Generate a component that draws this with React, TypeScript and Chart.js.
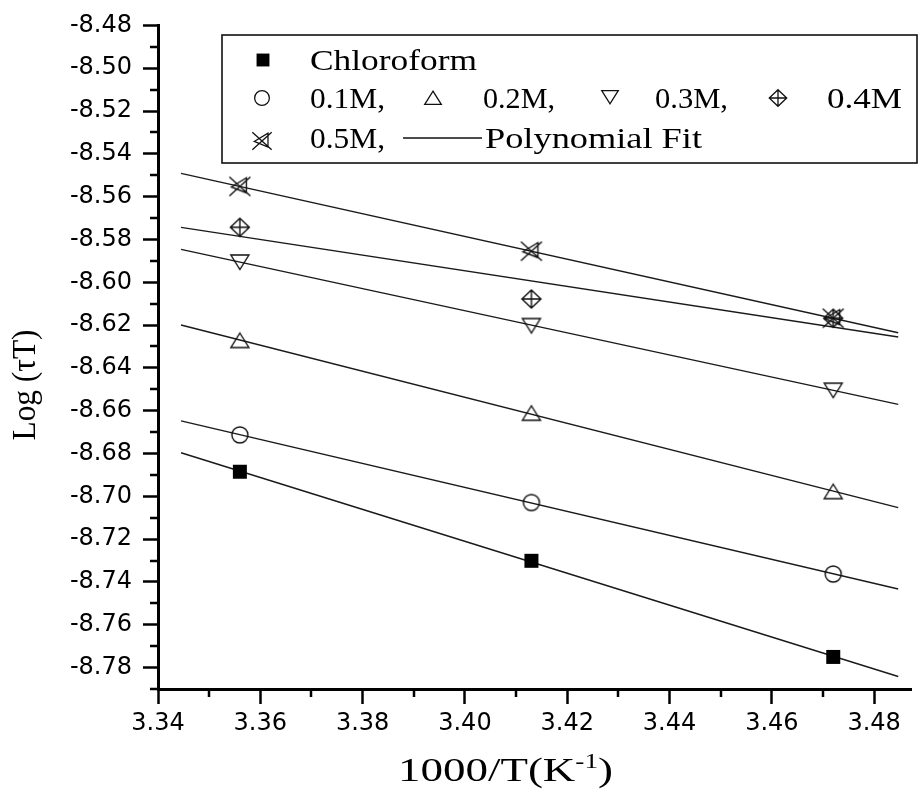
import React, { useEffect, useRef } from "react";
import { Chart, registerables } from "chart.js";
Chart.register(...registerables);

// ---- data ----
const inverseTemperature = [3.356, 3.413, 3.472];
const chloroform = [-8.6885, -8.7301, -8.775];
const conc01M = [-8.6713, -8.7029, -8.7363];
const conc02M = [-8.6272, -8.6612, -8.6978];
const conc03M = [-8.5905, -8.6202, -8.6504];
const conc04M = [-8.5743, -8.6078, -8.6168];
const conc05M = [-8.5552, -8.5855, -8.6168];
const fitRange = [3.3445, 3.4847];

const xTickLabels = [3.34, 3.36, 3.38, 3.4, 3.42, 3.44, 3.46, 3.48];
const xMinorTicks = [3.35, 3.37, 3.39, 3.41, 3.43, 3.45, 3.47];
const yTickLabels = [-8.78, -8.76, -8.74, -8.72, -8.7, -8.68, -8.66, -8.64, -8.62, -8.6, -8.58, -8.56, -8.54, -8.52, -8.5, -8.48];
const yMinorTicks = [-8.79, -8.77, -8.75, -8.73, -8.71, -8.69, -8.67, -8.65, -8.63, -8.61, -8.59, -8.57, -8.55, -8.53, -8.51, -8.49];

type Kind = "square" | "circle" | "up" | "down" | "diamond" | "star";
const series: { name: string; values: number[]; kind: Kind }[] = [
  { name: "Chloroform", values: chloroform, kind: "square" },
  { name: "0.1M", values: conc01M, kind: "circle" },
  { name: "0.2M", values: conc02M, kind: "up" },
  { name: "0.3M", values: conc03M, kind: "down" },
  { name: "0.4M", values: conc04M, kind: "diamond" },
  { name: "0.5M", values: conc05M, kind: "star" },
];

function linearFit(xs: number[], ys: number[]) {
  const n = xs.length;
  const mx = xs.reduce((a, b) => a + b, 0) / n;
  const my = ys.reduce((a, b) => a + b, 0) / n;
  let sxy = 0, sxx = 0;
  for (let i = 0; i < n; i++) {
    sxy += (xs[i] - mx) * (ys[i] - my);
    sxx += (xs[i] - mx) * (xs[i] - mx);
  }
  const slope = sxy / sxx;
  return (x: number) => my + slope * (x - mx);
}

function drawMarker(ctx: CanvasRenderingContext2D, kind: Kind, x: number, y: number, s: number) {
  ctx.save();
  ctx.translate(x, y);
  ctx.scale(s, s);
  ctx.strokeStyle = "#111";
  ctx.fillStyle = "#000";
  ctx.lineWidth = 1.4;
  ctx.beginPath();
  switch (kind) {
    case "square":
      ctx.fillRect(-7, -7, 14, 14);
      break;
    case "circle":
      ctx.arc(0, 0, 8, 0, Math.PI * 2);
      ctx.stroke();
      break;
    case "up":
      ctx.moveTo(0, -7.5);
      ctx.lineTo(9, 7);
      ctx.lineTo(-9, 7);
      ctx.closePath();
      ctx.stroke();
      break;
    case "down":
      ctx.moveTo(-9, -7);
      ctx.lineTo(9, -7);
      ctx.lineTo(0, 7.5);
      ctx.closePath();
      ctx.stroke();
      break;
    case "diamond":
      ctx.moveTo(0, -9);
      ctx.lineTo(9.5, 0);
      ctx.lineTo(0, 9);
      ctx.lineTo(-9.5, 0);
      ctx.closePath();
      ctx.moveTo(0, -9);
      ctx.lineTo(0, 9);
      ctx.moveTo(-9.5, 0);
      ctx.lineTo(9.5, 0);
      ctx.stroke();
      break;
    case "star":
      ctx.moveTo(-10.5, -9.5);
      ctx.lineTo(10.5, 9.5);
      ctx.moveTo(-10.5, 9.5);
      ctx.lineTo(10.5, -9.5);
      ctx.moveTo(-8.5, 0.5);
      ctx.lineTo(6.5, -8.5);
      ctx.lineTo(6.5, 6.5);
      ctx.closePath();
      ctx.stroke();
      break;
  }
  ctx.restore();
}

function markerCanvas(kind: Kind): HTMLCanvasElement {
  const c = document.createElement("canvas");
  c.width = 26;
  c.height = 26;
  const ctx = c.getContext("2d")!;
  drawMarker(ctx, kind, 13, 13, 1);
  return c;
}

const SERIF = '"Liberation Serif", "Times New Roman", serif';

function fitText(ctx: CanvasRenderingContext2D, text: string, x: number, y: number, font: string, width: number) {
  ctx.save();
  ctx.font = font;
  const w = ctx.measureText(text).width;
  ctx.translate(x, y);
  ctx.scale(width / w, 1);
  ctx.textAlign = "left";
  ctx.textBaseline = "alphabetic";
  ctx.fillText(text, 0, 0);
  ctx.restore();
}

const legendMarkers: { kind: Kind; x: number; y: number }[] = [
  { kind: "square", x: 263, y: 60 },
  { kind: "circle", x: 262, y: 98 },
  { kind: "up", x: 433, y: 98 },
  { kind: "down", x: 610, y: 97 },
  { kind: "diamond", x: 778, y: 98 },
  { kind: "star", x: 262, y: 141 },
];
const legendTexts: { text: string; x: number; y: number; w: number }[] = [
  { text: "Chloroform", x: 310, y: 70, w: 167 },
  { text: "0.1M,", x: 310, y: 108, w: 75 },
  { text: "0.2M,", x: 483, y: 108, w: 72 },
  { text: "0.3M,", x: 655, y: 108, w: 73 },
  { text: "0.4M", x: 827, y: 108, w: 75 },
  { text: "0.5M,", x: 310, y: 148, w: 75 },
  { text: "Polynomial Fit", x: 485, y: 148, w: 217 },
];

const decorPlugin = {
  id: "decor",
  afterDraw(chart: any) {
    const ctx: CanvasRenderingContext2D = chart.ctx;
    const { left, bottom } = chart.chartArea;
    const xs = chart.scales.x;
    const ys = chart.scales.y;
    ctx.save();
    // minor ticks
    ctx.strokeStyle = "#000";
    ctx.lineWidth = 2.5;
    ctx.beginPath();
    xMinorTicks.forEach((v) => {
      const px = Math.round(xs.getPixelForValue(v));
      ctx.moveTo(px, bottom);
      ctx.lineTo(px, bottom + 8);
    });
    yMinorTicks.forEach((v) => {
      const py = Math.round(ys.getPixelForValue(v));
      ctx.moveTo(left - 8, py);
      ctx.lineTo(left, py);
    });
    ctx.stroke();

    // legend box
    ctx.lineWidth = 1.6;
    ctx.strokeStyle = "#111";
    ctx.strokeRect(222, 35, 695, 128);
    legendMarkers.forEach((m) => drawMarker(ctx, m.kind, m.x, m.y, 0.92));
    ctx.fillStyle = "#000";
    legendTexts.forEach((t) => fitText(ctx, t.text, t.x, t.y, `29px ${SERIF}`, t.w));
    ctx.lineWidth = 1.3;
    ctx.beginPath();
    ctx.moveTo(403, 138);
    ctx.lineTo(482, 138);
    ctx.stroke();

    // x title: 1000/T(K^-1)
    ctx.font = `33px ${SERIF}`;
    const w1 = ctx.measureText("1000/T(K").width;
    const w3 = ctx.measureText(")").width;
    ctx.font = `20px ${SERIF}`;
    const w2 = ctx.measureText("-1").width;
    const sx = 215 / (w1 + w2 + w3);
    ctx.save();
    ctx.translate(398, 781);
    ctx.scale(sx, 1);
    ctx.textBaseline = "alphabetic";
    ctx.textAlign = "left";
    ctx.font = `33px ${SERIF}`;
    ctx.fillText("1000/T(K", 0, 0);
    ctx.font = `20px ${SERIF}`;
    ctx.fillText("-1", w1, -13);
    ctx.font = `33px ${SERIF}`;
    ctx.fillText(")", w1 + w2, 0);
    ctx.restore();

    // y title
    ctx.save();
    ctx.translate(35, 385);
    ctx.rotate(-Math.PI / 2);
    ctx.font = `33px ${SERIF}`;
    const wy = ctx.measureText("Log (\u03c4T)").width;
    ctx.scale(111 / wy, 1);
    ctx.textAlign = "center";
    ctx.textBaseline = "alphabetic";
    ctx.fillText("Log (\u03c4T)", 0, 0);
    ctx.restore();

    ctx.restore();
  },
};

export default function App() {
  const ref = useRef<HTMLCanvasElement | null>(null);
  useEffect(() => {
    document.body.style.margin = "0";
    const canvas = ref.current!;
    const pointSets = series.map((s) => ({
      label: s.name,
      data: inverseTemperature.map((x, i) => ({ x, y: s.values[i] })),
      showLine: false,
      pointStyle: markerCanvas(s.kind) as any,
      pointRadius: 8,
      pointHoverRadius: 8,
      order: 0,
    }));
    const fitSets = series.map((s) => {
      const f = linearFit(inverseTemperature, s.values);
      return {
        label: s.name + " fit",
        data: fitRange.map((x) => ({ x, y: f(x) })),
        showLine: true,
        borderColor: "#1a1a1a",
        borderWidth: 1.4,
        pointRadius: 0,
        pointHoverRadius: 0,
        order: 1,
      };
    });
    const tickFont = { family: '"DejaVu Sans", sans-serif', size: 24 };
    const chart = new Chart(canvas, {
      type: "scatter",
      data: { datasets: [...pointSets, ...fitSets] as any },
      options: {
        animation: false,
        responsive: false,
        events: [],
        layout: { padding: { top: 22, right: 2, left: 0, bottom: 0 } },
        plugins: { legend: { display: false }, tooltip: { enabled: false } },
        scales: {
          x: {
            type: "linear",
            min: 3.34,
            max: 3.4872,
            afterBuildTicks: (s: any) => {
              s.ticks = xTickLabels.map((v) => ({ value: v }));
            },
            afterFit: (s: any) => {
              s.height = 101;
            },
            grid: { display: true, drawOnChartArea: false, drawTicks: true, tickLength: 15, tickWidth: 2.5, tickColor: "#000" },
            border: { display: true, width: 3, color: "#000" },
            ticks: {
              font: tickFont,
              color: "#000",
              padding: 5,
              maxRotation: 0,
              autoSkip: false,
              callback: (v: any) => Number(v).toFixed(2),
            },
          },
          y: {
            type: "linear",
            min: -8.79,
            max: -8.48,
            afterBuildTicks: (s: any) => {
              s.ticks = yTickLabels.map((v) => ({ value: v }));
            },
            afterFit: (s: any) => {
              s.width = 158;
            },
            grid: { display: true, drawOnChartArea: false, drawTicks: true, tickLength: 15, tickWidth: 2.5, tickColor: "#000" },
            border: { display: true, width: 3, color: "#000" },
            ticks: {
              font: tickFont,
              color: "#000",
              padding: 11,
              autoSkip: false,
              callback: (v: any) => Number(v).toFixed(2),
            },
          },
        },
      },
      plugins: [decorPlugin],
    });
    return () => chart.destroy();
  }, []);
  return (
    <div style={{ width: 920, height: 790, background: "#fff" }}>
      <canvas ref={ref} width={920} height={790} style={{ display: "block", width: 920, height: 790 }} />
    </div>
  );
}
